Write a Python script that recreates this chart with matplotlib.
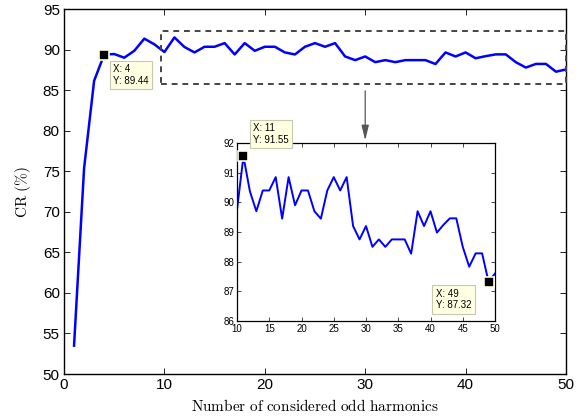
import matplotlib
matplotlib.use('Agg')
import matplotlib.pyplot as plt
import numpy as np

plt.rcParams['font.family'] = ['Liberation Sans', 'DejaVu Sans']
plt.rcParams['mathtext.fontset'] = 'cm'

# number of considered odd harmonics vs CR (%)
harmonics = np.arange(1, 51)
cr = [53.5, 75.4, 86.2, 89.44, 89.5, 89.05, 89.9, 91.4, 90.7, 89.75,
      91.55, 90.37, 89.7, 90.4, 90.4, 90.85, 89.45, 90.85, 89.9, 90.4,
      90.4, 89.7, 89.45, 90.4, 90.85, 90.4, 90.85, 89.2, 88.75, 89.2,
      88.5, 88.75, 88.5, 88.75, 88.75, 88.75, 88.27, 89.7, 89.2, 89.7,
      88.98, 89.24, 89.46, 89.46, 88.5, 87.83, 88.28, 88.28, 87.32, 87.6]

main_xticks = [0, 10, 20, 30, 40, 50]
main_yticks = [50, 55, 60, 65, 70, 75, 80, 85, 90, 95]
inset_xticks = [10, 15, 20, 25, 30, 35, 40, 45, 50]
inset_yticks = [86, 87, 88, 89, 90, 91, 92]

# zoom box (data coords of main axes)
box_x = (9.7, 50)
box_y = (85.8, 92.35)

tip_fc = '#ffffe1'
tip_ec = '#c8c8b0'


def datatip(ax, x, y, dx, dy, fs):
    ax.plot([x], [y], 's', color='k', ms=6.5, mec=tip_fc, mew=1.2,
            clip_on=False, zorder=5)
    ax.annotate('X: %g\nY: %.2f' % (x, y), xy=(x, y), xytext=(dx, dy),
                textcoords='offset points', ha='left', va='top',
                fontsize=fs, linespacing=1.2, zorder=6, annotation_clip=False,
                bbox=dict(boxstyle='square,pad=0.35', fc=tip_fc, ec=tip_ec, lw=0.8))


fig = plt.figure(figsize=(5.83, 4.2), dpi=100)
ax = fig.add_axes([64 / 583, 1 - 374 / 420, 502 / 583, 364.5 / 420])
ax.plot(harmonics, cr, color='b', lw=1.8)
ax.set_xlim(0, 50)
ax.set_ylim(50, 95)
ax.set_xticks(main_xticks)
ax.set_yticks(main_yticks)
ax.tick_params(direction='in', top=True, right=True, labelsize=11, pad=3,
               length=4, width=0.6)
for s in ax.spines.values():
    s.set_linewidth(1.0)
ax.set_xlabel(r'$\mathrm{Number\ of\ considered\ odd\ harmonics}$', fontsize=11,
              labelpad=4)
ax.set_ylabel(r'$\mathrm{CR\ (\%)}$', fontsize=11, labelpad=7)

# dashed zoom box
ax.plot([box_x[0], box_x[1], box_x[1], box_x[0], box_x[0]],
        [box_y[0], box_y[0], box_y[1], box_y[1], box_y[0]],
        ls=(0, (3, 2.5)), color='#444444', lw=1.4, clip_on=False, zorder=3)

# arrow down to the inset
ax.annotate('', xy=(30, 78.5), xytext=(30, 85.3),
            arrowprops=dict(arrowstyle='-|>,head_length=0.9,head_width=0.22',
                            color='#555555', lw=0.9))

datatip(ax, 4, 89.44, 6.5, -7, 7)

# inset
ax_in = fig.add_axes([237 / 583, 1 - 321 / 420, 258 / 583, 178 / 420])
ax_in.plot(harmonics, cr, color='b', lw=1.4)
ax_in.set_xlim(10, 50)
ax_in.set_ylim(86, 92)
ax_in.set_xticks(inset_xticks)
ax_in.set_yticks(inset_yticks)
ax_in.tick_params(direction='in', top=True, right=True, labelsize=7, pad=2,
                  length=3, width=0.5)
for s in ax_in.spines.values():
    s.set_linewidth(0.9)

datatip(ax_in, 11, 91.55, 7, 24, 7)
datatip(ax_in, 49, 87.32, -38, -5, 7)

fig.savefig('out.png', dpi=100)
